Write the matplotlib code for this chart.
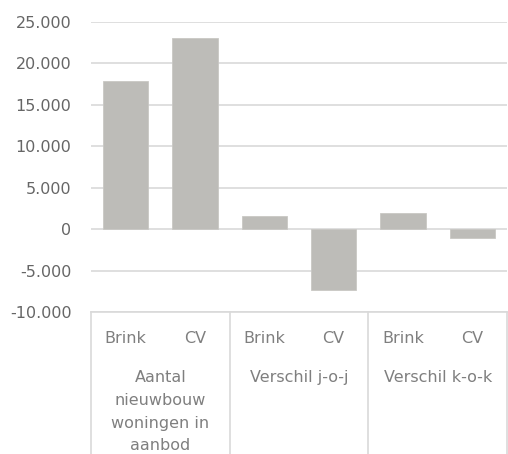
import matplotlib.pyplot as plt
from matplotlib.ticker import FuncFormatter

groups = ['Aantal\nnieuwbouw\nwoningen in\naanbod', 'Verschil j-o-j', 'Verschil k-o-k']
series = ['Brink', 'CV']
values = [17900, 23100, 1600, -7400, 1900, -1100]
yticks = [-10000, -5000, 0, 5000, 10000, 15000, 20000, 25000]

plt.rcParams['font.family'] = ['DejaVu Sans']

fig = plt.figure(figsize=(5.08, 4.54), dpi=100)
ax = fig.add_axes([91 / 508, 1 - 312 / 454, 416 / 508, 290 / 454])

x = list(range(len(values)))
ax.bar(x, values, width=0.65, color='#bdbcb8', edgecolor='#c9c8c4', linewidth=0.6, zorder=3)

ax.set_xlim(-0.5, len(values) - 0.5)
ax.set_ylim(yticks[0], yticks[-1])
ax.set_yticks(yticks)
ax.yaxis.set_major_formatter(FuncFormatter(lambda v, p: f'{int(v):,}'.replace(',', '.')))
ax.tick_params(axis='y', length=0, pad=14, labelsize=11.5, labelcolor='#666666')
ax.set_xticks([])
ax.grid(axis='y', color='#d9d9d9', linewidth=1.2, zorder=0)
for s in ax.spines.values():
    s.set_visible(False)

# category box below the axis
line_kw = dict(color='#d9d9d9', linewidth=1.2, transform=ax.transAxes, clip_on=False)
ax.plot([0, 1], [0, 0], **line_kw)
for i in range(len(groups) + 1):
    xa = i / len(groups)
    ax.plot([xa, xa], [0, -0.5], **line_kw)

for i, v in enumerate(values):
    xa = (i + 0.5) / len(values)
    ax.text(xa, -0.09, series[i % 2], transform=ax.transAxes, ha='center', va='center',
            fontsize=11.5, color='#7f7f7f')

for g, name in enumerate(groups):
    xa = (g + 0.5) / len(groups)
    ax.text(xa, -0.2, name, transform=ax.transAxes, ha='center', va='top',
            fontsize=11.5, color='#7f7f7f', linespacing=1.65)

fig.savefig('out.png', dpi=100)
